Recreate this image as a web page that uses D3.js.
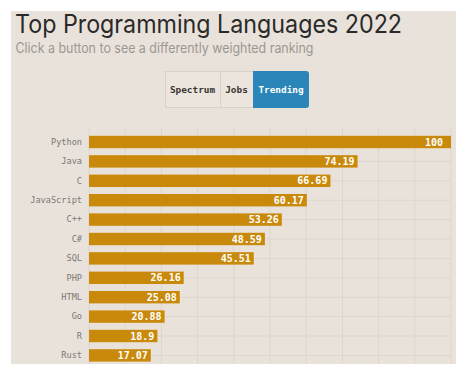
<!DOCTYPE html>
<html><head><meta charset="utf-8">
<script src="https://cdn.jsdelivr.net/npm/d3@7"></script>
<style>body{margin:0;background:#fff}svg{display:block}</style>
</head><body>
<svg id="c" width="474" height="381"></svg>
<script>
const languages = ["Python","Java","C","JavaScript","C++","C#","SQL","PHP","HTML","Go","R","Rust"];
const scores = [100,74.19,66.69,60.17,53.26,48.59,45.51,26.16,25.08,20.88,18.9,17.07];
const valueLabels = ["100","74.19","66.69","60.17","53.26","48.59","45.51","26.16","25.08","20.88","18.9","17.07"];
const buttons = ["Spectrum","Jobs","Trending"];
const activeButton = "Trending";
const xTicks = [0,10,20,30,40,50,60,70,80,90,100];
const title = "Top Programming Languages 2022";
const subtitle = "Click a button to see a differently weighted ranking";

const svg = d3.select("#c");
const panel = {x:11,y:11,w:445,h:353};
svg.append("defs").append("clipPath").attr("id","pc").append("rect")
  .attr("x",panel.x).attr("y",panel.y).attr("width",panel.w).attr("height",panel.h);
svg.append("rect").attr("x",panel.x).attr("y",panel.y).attr("width",panel.w).attr("height",panel.h).attr("fill","#e9e2db");
const g = svg.append("g").attr("clip-path","url(#pc)");

g.append("text").attr("x",15).attr("y",33).text(title)
  .attr("font-family","Inter, 'Open Sans', sans-serif").attr("font-size",25).attr("fill","#2a2a2a")
  .attr("textLength",387).attr("lengthAdjust","spacingAndGlyphs");
g.append("text").attr("x",15.5).attr("y",53).text(subtitle)
  .attr("font-family","Inter, 'Open Sans', sans-serif").attr("font-size",14).attr("fill","#9b9792")
  .attr("textLength",298).attr("lengthAdjust","spacingAndGlyphs");

// buttons
const bw = {"Spectrum":55,"Jobs":33,"Trending":56};
let bx = 165;
buttons.forEach((b,i)=>{
  const active = b===activeButton;
  const bg = g.append("g");
  if(active){
    bg.append("rect").attr("x",bx).attr("y",71).attr("width",bw[b]).attr("height",37).attr("rx",3).attr("fill","#2a86b8");
    bg.append("rect").attr("x",bx).attr("y",71).attr("width",6).attr("height",37).attr("fill","#2a86b8");
  } else {
    bg.append("rect").attr("x",bx+0.5).attr("y",71.5).attr("width",bw[b]).attr("height",36).attr("fill","#ebe5de").attr("stroke","#d8d1c9");
  }
  bg.append("text").attr("x",bx+bw[b]/2).attr("y",93).attr("text-anchor","middle").text(b)
    .attr("font-family","'DejaVu Sans Mono', monospace").attr("font-weight","bold").attr("font-size",9.4)
    .attr("fill",active?"#fff":"#3a3632");
  bx += bw[b];
});

const x = d3.scaleLinear().domain([0,100]).range([89,451]);
const y = d3.scaleBand().domain(languages).range([132.3,365.1]).paddingInner(0.36).paddingOuter(0.18);

// grid
g.append("g").selectAll("line").data(xTicks).join("line")
  .attr("x1",d=>x(d)).attr("x2",d=>x(d)).attr("y1",128).attr("y2",panel.y+panel.h)
  .attr("stroke","#ded6cd").attr("stroke-width",1);
g.append("g").selectAll("line").data(languages).join("line")
  .attr("x1",x(0)).attr("x2",x(100)).attr("y1",d=>y(d)+y.bandwidth()/2).attr("y2",d=>y(d)+y.bandwidth()/2)
  .attr("stroke","#ded6cd").attr("stroke-width",1);

// y axis labels
const yAxis = d3.axisLeft(y).tickSize(0).tickPadding(7);
const ya = g.append("g").attr("transform",`translate(${x(0)},0)`).call(yAxis);
ya.select(".domain").remove();
ya.selectAll("text").attr("font-family","'DejaVu Sans Mono', monospace").attr("font-size",8.6).attr("fill","#7b7874");

// bars
g.append("g").selectAll("rect").data(languages).join("rect")
  .attr("x",x(0)).attr("y",d=>y(d)).attr("width",(d,i)=>x(scores[i])-x(0)).attr("height",y.bandwidth())
  .attr("fill","#c98a0c");
g.append("g").selectAll("text").data(languages).join("text")
  .attr("x",(d,i)=>x(scores[i])-(scores[i]===100?8:3)).attr("y",d=>y(d)+y.bandwidth()/2).attr("dy","0.36em")
  .attr("text-anchor","end").text((d,i)=>valueLabels[i])
  .attr("font-family","'DejaVu Sans Mono', monospace").attr("font-weight","bold").attr("font-size",10)
  .attr("fill","#fff");
</script>
</body></html>
